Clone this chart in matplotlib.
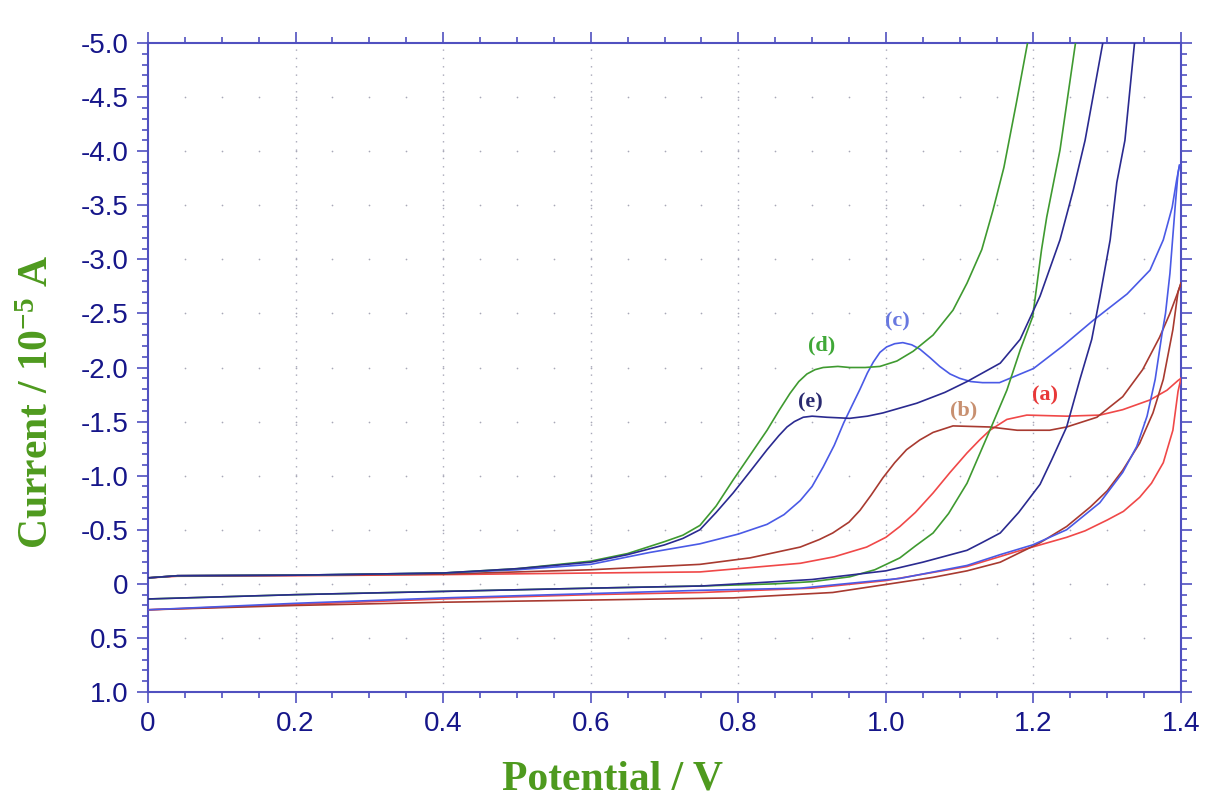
import numpy as np
import matplotlib
matplotlib.use("Agg")
import matplotlib.pyplot as plt

# potential (V) / current (10^-5 A, oxidation drawn upward = negative values)
# (a)
a_fwd_v = [0, 0.04, 0.2, 0.4, 0.6, 0.748, 0.816, 0.884, 0.93, 0.974, 1.0, 1.019, 1.04, 1.064,
           1.087, 1.11, 1.127, 1.141, 1.164, 1.191, 1.245, 1.29, 1.321, 1.358, 1.381, 1.396, 1.4]
a_fwd_i = [-0.055, -0.07, -0.075, -0.085, -0.1, -0.11, -0.15, -0.19, -0.25, -0.34, -0.43, -0.53, -0.66, -0.84,
           -1.03, -1.21, -1.33, -1.42, -1.52, -1.56, -1.55, -1.56, -1.61, -1.7, -1.79, -1.88, -1.9]
a_rev_v = [1.4, 1.396, 1.389, 1.376, 1.36, 1.344, 1.322, 1.3, 1.27, 1.245, 1.209, 1.178, 1.11, 1.0,
           0.9, 0.75, 0.6, 0.4, 0.2, 0]
a_rev_i = [-1.9, -1.78, -1.42, -1.12, -0.93, -0.8, -0.67, -0.59, -0.49, -0.43, -0.36, -0.3, -0.16, -0.03,
           0.04, 0.08, 0.1, 0.14, 0.19, 0.24]

# (b)
b_fwd_v = [0, 0.04, 0.2, 0.4, 0.6, 0.748, 0.816, 0.884, 0.91, 0.928, 0.95, 0.965, 0.98, 0.996, 1.012, 1.028,
           1.046, 1.064, 1.091, 1.141, 1.178, 1.222, 1.245, 1.286, 1.321, 1.348, 1.371, 1.385, 1.396, 1.4]
b_fwd_i = [-0.055, -0.075, -0.08, -0.09, -0.13, -0.18, -0.24, -0.34, -0.41, -0.47, -0.57, -0.68, -0.82, -0.98, -1.12, -1.24,
           -1.33, -1.4, -1.46, -1.45, -1.42, -1.42, -1.45, -1.54, -1.73, -1.98, -2.28, -2.5, -2.7, -2.78]
b_rev_v = [1.4, 1.396, 1.389, 1.376, 1.362, 1.344, 1.321, 1.3, 1.277, 1.245, 1.209, 1.155, 1.11, 1.064,
           0.928, 0.793, 0.6, 0.4, 0.2, 0]
b_rev_i = [-2.78, -2.7, -2.35, -1.89, -1.58, -1.3, -1.05, -0.86, -0.71, -0.53, -0.38, -0.2, -0.12, -0.06,
           0.08, 0.13, 0.15, 0.17, 0.2, 0.24]

# (c)
c_fwd_v = [0, 0.04, 0.2, 0.4, 0.5, 0.6, 0.68, 0.748, 0.8, 0.839, 0.862, 0.884, 0.9, 0.915, 0.93, 0.943,
           0.955, 0.965, 0.975, 0.983, 0.992, 1.001, 1.012, 1.023, 1.035, 1.046, 1.06, 1.073, 1.087, 1.1,
           1.115, 1.131, 1.154, 1.2, 1.24, 1.28, 1.327, 1.358, 1.376, 1.388, 1.394, 1.398]
c_fwd_i = [-0.055, -0.075, -0.08, -0.1, -0.13, -0.18, -0.29, -0.37, -0.46, -0.55, -0.64, -0.77, -0.9, -1.08, -1.28, -1.49,
           -1.66, -1.8, -1.95, -2.05, -2.14, -2.19, -2.22, -2.23, -2.21, -2.17, -2.09, -2.01, -1.94, -1.9,
           -1.87, -1.86, -1.86, -1.99, -2.2, -2.43, -2.68, -2.9, -3.18, -3.48, -3.73, -3.87]
c_rev_v = [1.398, 1.396, 1.392, 1.385, 1.379, 1.374, 1.365, 1.354, 1.34, 1.321, 1.29, 1.245, 1.199,
           1.155, 1.11, 1.019, 0.884, 0.748, 0.6, 0.4, 0.2, 0]
c_rev_i = [-3.87, -3.8, -3.48, -2.87, -2.5, -2.3, -1.89, -1.55, -1.27, -1.03, -0.75, -0.5, -0.36,
           -0.27, -0.17, -0.05, 0.04, 0.06, 0.09, 0.13, 0.18, 0.24]

# (d)
d_fwd_v = [0, 0.04, 0.2, 0.4, 0.5, 0.6, 0.65, 0.7, 0.725, 0.748, 0.77, 0.793, 0.815, 0.839, 0.855, 0.87,
           0.882, 0.893, 0.904, 0.915, 0.935, 0.951, 0.972, 0.992, 1.015, 1.037, 1.064, 1.091, 1.11, 1.13,
           1.145, 1.16, 1.177, 1.192]
d_fwd_i = [-0.055, -0.075, -0.08, -0.1, -0.14, -0.21, -0.28, -0.39, -0.45, -0.54, -0.72, -0.96, -1.18, -1.42, -1.6, -1.76,
           -1.87, -1.94, -1.98, -2.0, -2.01, -2.0, -2.0, -2.01, -2.06, -2.15, -2.3, -2.53, -2.78, -3.09,
           -3.45, -3.85, -4.45, -5.0]
d_rev_v = [1.257, 1.236, 1.218, 1.211, 1.199, 1.182, 1.164, 1.141, 1.11, 1.085, 1.064, 1.04, 1.019,
           0.985, 0.951, 0.9, 0.85, 0.75, 0.6, 0.4, 0.2, 0]
d_rev_i = [-5.0, -4.01, -3.39, -3.09, -2.47, -2.16, -1.79, -1.42, -0.93, -0.65, -0.47, -0.35, -0.24,
           -0.13, -0.065, -0.02, 0.0, 0.02, 0.04, 0.07, 0.1, 0.14]

# (e)
e_fwd_v = [0, 0.04, 0.2, 0.4, 0.5, 0.6, 0.65, 0.7, 0.725, 0.748, 0.77, 0.793, 0.815, 0.839, 0.855, 0.866,
           0.876, 0.888, 0.9, 0.92, 0.951, 0.975, 0.996, 1.042, 1.08, 1.11, 1.155, 1.182, 1.209, 1.236,
           1.254, 1.27, 1.294]
e_fwd_i = [-0.055, -0.075, -0.08, -0.1, -0.14, -0.2, -0.27, -0.36, -0.42, -0.5, -0.66, -0.84, -1.03, -1.24, -1.37, -1.45,
           -1.5, -1.54, -1.55, -1.54, -1.53, -1.55, -1.58, -1.67, -1.77, -1.87, -2.04, -2.26, -2.66, -3.18,
           -3.64, -4.1, -5.0]
e_rev_v = [1.337, 1.324, 1.313, 1.304, 1.29, 1.279, 1.263, 1.245, 1.225, 1.209, 1.18, 1.155, 1.13,
           1.11, 1.05, 1.0, 0.9, 0.8, 0.75, 0.6, 0.4, 0.2, 0]
e_rev_i = [-5.0, -4.1, -3.71, -3.18, -2.65, -2.26, -1.89, -1.45, -1.15, -0.92, -0.66, -0.47, -0.38,
           -0.31, -0.2, -0.12, -0.04, 0.0, 0.02, 0.04, 0.07, 0.1, 0.14]

curve_names = ["(a)", "(b)", "(c)", "(d)", "(e)"]
curve_colors = ["#f04848", "#a83a30", "#4a5ae6", "#3f9a30", "#2a2a90"]
label_colors = ["#e83838", "#c89070", "#6878e0", "#40a838", "#2a2a70"]
label_v = [1.216, 1.105, 1.015, 0.913, 0.898]
label_i = [-1.74, -1.60, -2.43, -2.20, -1.68]

y_ticks = [-5.0, -4.5, -4.0, -3.5, -3.0, -2.5, -2.0, -1.5, -1.0, -0.5, 0, 0.5, 1.0]
y_ticklabels = ["-5.0", "-4.5", "-4.0", "-3.5", "-3.0", "-2.5", "-2.0", "-1.5", "-1.0", "-0.5", "0", "0.5", "1.0"]
x_ticks = [0, 0.2, 0.4, 0.6, 0.8, 1.0, 1.2, 1.4]
x_ticklabels = ["0", "0.2", "0.4", "0.6", "0.8", "1.0", "1.2", "1.4"]

AXIS_BLUE = "#5050c0"
TICK_NAVY = "#16168a"
TITLE_GREEN = "#4e9a1e"

plt.rcParams["mathtext.fontset"] = "custom"
plt.rcParams["mathtext.rm"] = "Liberation Serif:bold"
plt.rcParams["mathtext.it"] = "Liberation Serif:bold"
plt.rcParams["mathtext.bf"] = "Liberation Serif:bold"

fig = plt.figure(figsize=(12.12, 8.09), dpi=100)
ax = fig.add_axes([148 / 1212, 1 - 692 / 809, (1181 - 148) / 1212, (692 - 43) / 809])

ax.set_xlim(0, 1.4)
ax.set_ylim(1.0, -5.0)

# grid: dotted verticals at major x, sparse dots on major y rows
for xv in x_ticks[1:-1]:
    ax.axvline(xv, color="#a8a8b8", lw=1.0, ls=(0, (1, 5)), zorder=0)
minor_x = np.arange(0.05, 1.4, 0.05)
gx, gy = np.meshgrid(minor_x, y_ticks[1:-1])
ax.scatter(gx.ravel(), gy.ravel(), s=1.5, color="#a8a8b8", zorder=0, linewidths=0)

fwd = [(a_fwd_v, a_fwd_i), (b_fwd_v, b_fwd_i), (c_fwd_v, c_fwd_i), (d_fwd_v, d_fwd_i), (e_fwd_v, e_fwd_i)]
rev = [(a_rev_v, a_rev_i), (b_rev_v, b_rev_i), (c_rev_v, c_rev_i), (d_rev_v, d_rev_i), (e_rev_v, e_rev_i)]
for k in range(5):
    ax.plot(fwd[k][0], fwd[k][1], color=curve_colors[k], lw=1.2, zorder=3, solid_joinstyle="round")
    ax.plot(rev[k][0], rev[k][1], color=curve_colors[k], lw=1.2, zorder=3, solid_joinstyle="round")
    ax.text(label_v[k], label_i[k], curve_names[k], color=label_colors[k], fontsize=16,
            family="Liberation Serif", fontweight="bold", ha="center", va="center", zorder=4)

ax.set_xticks(x_ticks)
ax.set_xticklabels(x_ticklabels)
ax.set_yticks(y_ticks)
ax.set_yticklabels(y_ticklabels)
ax.set_xticks(np.arange(0, 1.41, 0.05), minor=True)
ax.set_yticks(np.arange(-5.0, 1.01, 0.1), minor=True)

for sp in ax.spines.values():
    sp.set_color(AXIS_BLUE)
    sp.set_linewidth(1.5)

ax.tick_params(which="both", direction="out", color=AXIS_BLUE, width=1.2,
               top=True, right=True, labeltop=False, labelright=False)
ax.tick_params(which="major", length=8)
ax.tick_params(which="minor", length=4)
ax.tick_params(axis="y", which="major", pad=6)
ax.tick_params(axis="x", which="major", pad=6)
for lab in ax.get_xticklabels() + ax.get_yticklabels():
    lab.set_family("Liberation Sans")
    lab.set_fontsize(20)
    lab.set_color(TICK_NAVY)

fig.text(612 / 1212, 1 - 780 / 809, "Potential / V", ha="center", va="center",
         fontsize=30, family="Liberation Serif", fontweight="bold", color=TITLE_GREEN)
fig.text(38 / 1212, 1 - 402 / 809, r"Current / 10$^{-5}$ A", ha="center", va="center",
         rotation=90, fontsize=30, family="Liberation Serif", fontweight="bold", color=TITLE_GREEN)

fig.savefig("out.png", dpi=100, facecolor="white")
